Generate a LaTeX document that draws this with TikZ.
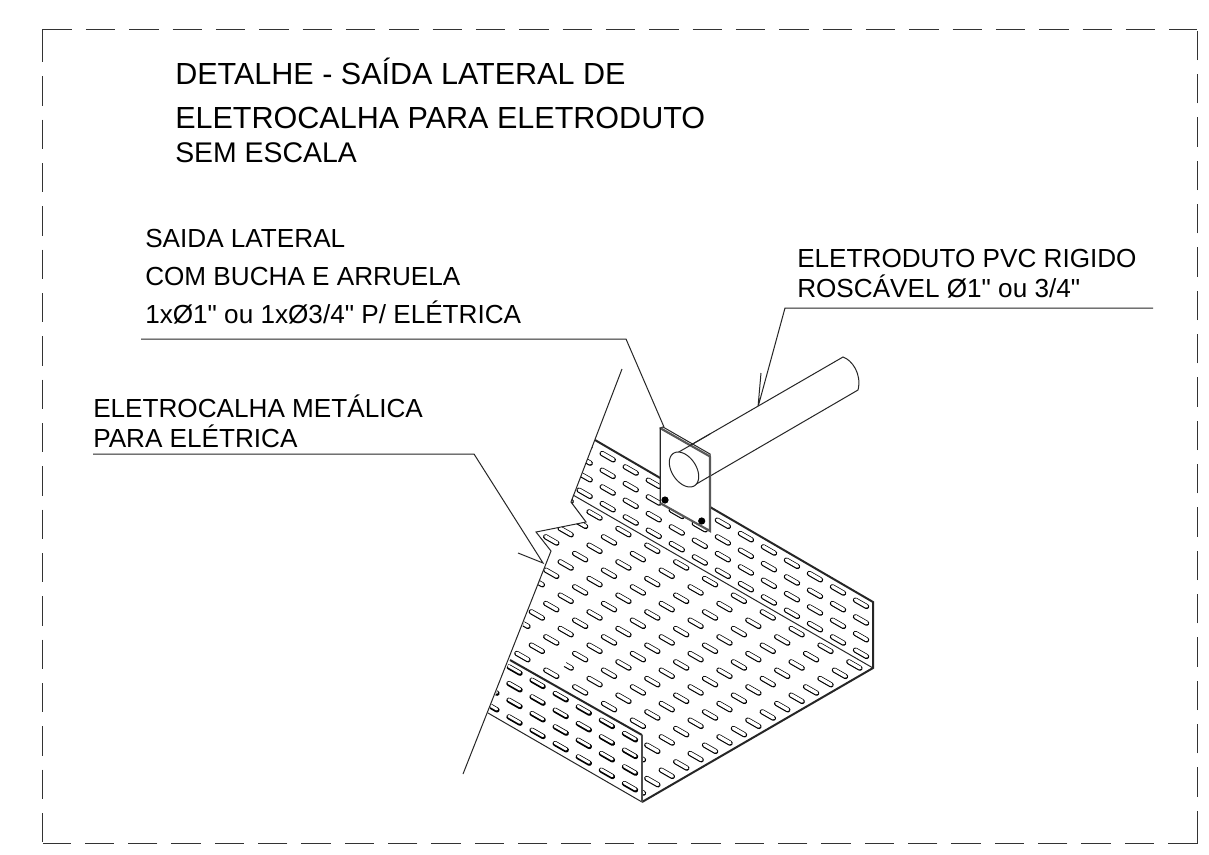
\documentclass[tikz,border=0pt]{standalone}
\usepackage{fontspec}
\setmainfont{Liberation Sans}[Ligatures=TeXOff]
\tikzset{
  px/.style={x=0.75pt,y=-0.75pt},
  lbl/.style={inner sep=0pt,anchor=base west,font=\fontsize{19.6pt}{22pt}\selectfont},
  sub/.style={inner sep=0pt,anchor=base west,font=\fontsize{21.3pt}{24pt}\selectfont},
  ttl/.style={inner sep=0pt,anchor=base west,font=\fontsize{22.9pt}{26pt}\selectfont},
  thin line/.style={line width=0.75pt,black!85},
  rim/.style={line width=1.5pt,black!85},
  frame/.style={line width=0.8pt,black!80,dash pattern=on 22.1pt off 10.4pt},
}
\newcommand{\slotp}[2]{%
  \draw[line width=3.9pt,line cap=round,black] ({#1-5.6},{#2-3.2}) -- ({#1+5.6},{#2+3.2});
  \draw[line width=2.5pt,line cap=round,white] ({#1-5.6},{#2-3.45}) -- ({#1+5.6},{#2+2.95});
}
\newcommand{\slotf}[2]{%
  \draw[line width=3.9pt,line cap=round,black] ({#1-5.6},{#2-3.2}) -- ({#1+5.6},{#2+3.2});
  \draw[line width=2pt,line cap=round,white] ({#1-5.8},{#2-3.9}) -- ({#1+5.4},{#2+2.5});
}
\begin{document}
\begin{tikzpicture}[px]
\useasboundingbox (0,0) rectangle (1209,854);
\fill[white] (0,0) rectangle (1209,854);
% dashed frame
\coordinate (tl) at (42.5,29.3); \coordinate (tr) at (1197.3,29.3);
\coordinate (br) at (1197.3,843.7); \coordinate (bl) at (42.5,843.7);
\draw[frame] (tl) -- (tr);
\draw[frame] (br) -- (bl);
\draw[frame] (42.5,33) -- (bl);
\draw[frame] (1197.3,840) -- (tr);
\draw[line width=0.8pt,black!80] (tl) -- (42.5,33);
\draw[line width=0.8pt,black!80] (br) -- (1197.3,840);
% texts
\node[ttl] (t1) at (175,84) {DETALHE - SAÍDA LATERAL DE};
\node[ttl] (t2) at (175,128) {ELETROCALHA PARA ELETRODUTO};
\node[sub] (t3) at (175,162) {SEM ESCALA};
\node[lbl] (a1) at (145,247) {SAIDA LATERAL};
\node[lbl] (a2) at (145,285) {COM BUCHA E ARRUELA};
\node[lbl] (a3) at (145,323) {1xØ1" ou 1xØ3/4" P/ ELÉTRICA};
\node[lbl] (b1) at (797,267) {ELETRODUTO PVC RIGIDO};
\node[lbl] (b2) at (797,297) {ROSCÁVEL Ø1" ou 3/4"};
\node[lbl] (c1) at (93,417) {ELETROCALHA METÁLICA};
\node[lbl] (c2) at (93,447) {PARA ELÉTRICA};
% leaders
\coordinate (la0) at (141,339); \coordinate (la1) at (626,339); \coordinate (la2) at (664,427);
\coordinate (lb0) at (1153,308); \coordinate (lb1) at (785,308); \coordinate (lb2) at (758,407); \coordinate (lb3) at (761,373);
\coordinate (lc0) at (93,454); \coordinate (lc1) at (474,454); \coordinate (lc2) at (543,563); \coordinate (lc3) at (518,553);
\draw[thin line] (la0) -- (la1) -- (la2);
\draw[thin line] (lb0) -- (lb1) -- (lb2) -- (lb3);
\draw[thin line] (lc0) -- (lc1) -- (lc2) -- (lc3);
% floor slots
\begin{scope}
\clip (573,495) -- (873,668) -- (642,802) -- (642,735) -- (510,660) -- (551,551) -- (536,532) -- (586,522) -- (571,502) -- cycle;
\foreach \m in {-12,...,12} \foreach \n in {-8,...,12} {
  \pgfmathsetmacro{\xx}{565.7+14.43*\m+28.87*\n}
  \pgfmathsetmacro{\yy}{598.3-8.33*\m+16.67*\n}
  \slotp{\xx}{\yy}
}
\fill[white] (560,662) circle (6);
\end{scope}
% back wall slots
\begin{scope}
\clip (595,440) -- (873,602) -- (873,668) -- (573,495) -- (571,502) -- cycle;
\foreach \i in {-1,...,11} \foreach \j in {0,...,3} {
  \pgfmathsetmacro{\xx}{607.7+23.03*\i}
  \pgfmathsetmacro{\yy}{456.7+13.33*\i+16.67*\j}
  \slotp{\xx}{\yy}
}
\end{scope}
% front wall slots
\begin{scope}
\clip (510,660) -- (642,735) -- (642,802) -- (488,713) -- cycle;
\foreach \i in {0,-1,...,-6} \foreach \j in {0,...,3} {
  \pgfmathsetmacro{\xx}{630+23.1*\i}
  \pgfmathsetmacro{\yy}{736.7+13.33*\i+16.67*\j}
  \slotf{\xx}{\yy}
}
\end{scope}
% tray edges
\draw[thin line] (622,369) -- (571,502) -- (586,522) -- (536,532) -- (551,551) -- (463,774);
\draw[rim] (595,440) -- (873,602) -- (873,668) -- (642,802);
\draw[rim] (510,660) -- (642,735);
\draw[thin line] (573,495) -- (873,668);
\draw[thin line] (488,713) -- (642,802);
\draw[line width=1.8pt,black!70] (642,735) -- (642,802);
% conduit
\draw[thin line,fill=white] (677,453) -- (843,357) .. controls (852,360) and (862,374) .. (858,390) -- (693,486);
% plate
\draw[thin line,fill=white] (660,428) -- (710,456.5) -- (710,531) -- (660,503) -- cycle;
\draw[thin line] (660,428) -- (663,427) -- (710,454) -- (710,456.5);
\draw[line width=1.6pt,black!65] (660,428) -- (710,456.5);
\draw[line width=1.6pt,black!65] (710,456.5) -- (710,531) -- (660,503);
\draw[thin line] (660,428) -- (660,503);
\draw[thin line] (677,453) -- (710,434);
\draw[thin line] (693,486) -- (710,476);
\fill[black] (665,500) circle (3.6);
\fill[black] (701.7,521) circle (3.6);
\draw[thin line,fill=white] plot[domain=0:360,samples=72,smooth] ({684+14.7*cos(\x)},{469.5+7*cos(\x)+16*sin(\x)}) -- cycle;
\end{tikzpicture}
\end{document}
